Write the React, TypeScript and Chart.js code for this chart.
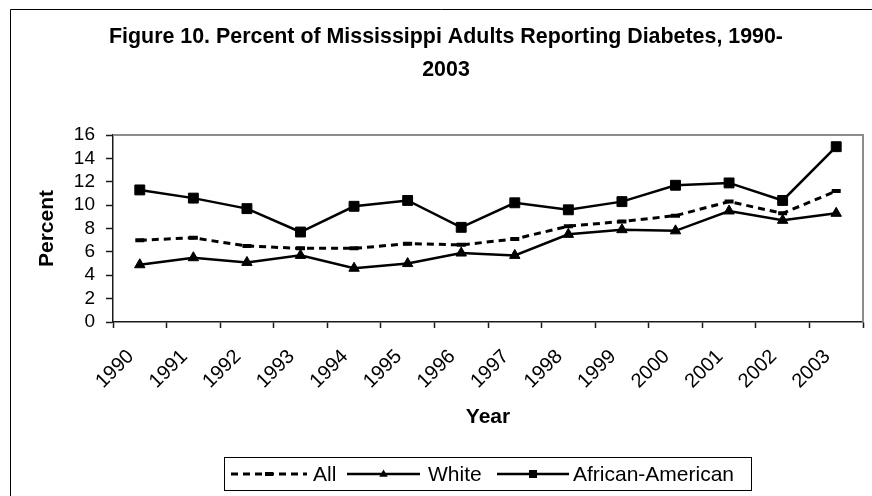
import React, { useEffect, useRef } from "react";
import { Chart, registerables } from "chart.js";

Chart.register(...registerables);

// ---------- data ----------
const years = ["1990", "1991", "1992", "1993", "1994", "1995", "1996", "1997", "1998", "1999", "2000", "2001", "2002", "2003"];
const allValues = [7.0, 7.2, 6.5, 6.3, 6.3, 6.7, 6.6, 7.1, 8.2, 8.6, 9.1, 10.3, 9.3, 11.2];
const whiteValues = [4.9, 5.5, 5.1, 5.7, 4.6, 5.0, 5.9, 5.7, 7.5, 7.9, 7.8, 9.5, 8.7, 9.3];
const africanAmericanValues = [11.3, 10.6, 9.7, 7.7, 9.9, 10.4, 8.1, 10.2, 9.6, 10.3, 11.7, 11.9, 10.4, 15.0];
const seriesNames = ["All", "White", "African-American"];
const titleLines = ["Figure 10. Percent of Mississippi Adults Reporting Diabetes, 1990-", "2003"];
const yAxisTitle = "Percent";
const xAxisTitle = "Year";
const yMin = 0;
const yMax = 16;
const yStep = 2;

const FONT = "'Liberation Sans', Arial, Helvetica, sans-serif";

const legendSlots = [
  { x0: 231, x1: 307, tx: 313 },
  { x0: 347, x1: 420, tx: 428 },
  { x0: 497, x1: 569, tx: 573 },
];

const framePlugin = {
  id: "excelFrame",
  beforeDraw(chart: any) {
    const ctx = chart.ctx;
    ctx.save();
    ctx.fillStyle = "#ffffff";
    ctx.fillRect(0, 0, chart.width, chart.height);
    ctx.strokeStyle = "#000000";
    ctx.lineWidth = 1;
    ctx.beginPath();
    ctx.moveTo(10.5, chart.height);
    ctx.lineTo(10.5, 9.5);
    ctx.lineTo(chart.width, 9.5);
    ctx.stroke();
    ctx.restore();
  },
  beforeDatasetsDraw(chart: any) {
    const { ctx, chartArea } = chart;
    ctx.save();
    ctx.strokeStyle = "#8c8c8c";
    ctx.lineWidth = 2;
    ctx.beginPath();
    ctx.moveTo(chartArea.left, chartArea.top);
    ctx.lineTo(chartArea.right, chartArea.top);
    ctx.lineTo(chartArea.right, chartArea.bottom);
    ctx.stroke();
    ctx.restore();
  },
  afterDraw(chart: any) {
    const ctx = chart.ctx;
    const boxL = 224.5, boxT = 457.5, boxW = 527, boxH = 33;
    const cy = boxT + boxH / 2;
    ctx.save();
    ctx.strokeStyle = "#000000";
    ctx.lineWidth = 1;
    ctx.strokeRect(boxL, boxT, boxW, boxH);
    chart.data.datasets.forEach((ds: any, i: number) => {
      const slot = legendSlots[i];
      if (!slot) return;
      ctx.save();
      ctx.strokeStyle = "#000";
      ctx.fillStyle = "#000";
      ctx.lineWidth = ds.borderWidth;
      ctx.setLineDash(ds.borderDash || []);
      ctx.beginPath();
      ctx.moveTo(slot.x0, cy);
      ctx.lineTo(slot.x1, cy);
      ctx.stroke();
      ctx.setLineDash([]);
      const mx = (slot.x0 + slot.x1) / 2;
      if (ds.pointStyle === "line") {
        ctx.fillRect(mx - 4, cy - 2, 8, 4);
      } else if (ds.pointStyle === "triangle") {
        const r = 4.5;
        ctx.beginPath();
        ctx.moveTo(mx, cy - r);
        ctx.lineTo(mx + r * 0.95, cy + r * 0.6);
        ctx.lineTo(mx - r * 0.95, cy + r * 0.6);
        ctx.closePath();
        ctx.fill();
      } else if (ds.pointStyle === "rect") {
        ctx.fillRect(mx - 4, cy - 4, 8, 8);
      }
      ctx.font = `21px ${FONT}`;
      ctx.textBaseline = "middle";
      ctx.textAlign = "left";
      ctx.fillText(ds.label, slot.tx, cy + 1);
      ctx.restore();
    });
    ctx.restore();
  },
};

export default function App() {
  const canvasRef = useRef<HTMLCanvasElement>(null);

  useEffect(() => {
    if (!canvasRef.current) return;
    const chart = new Chart(canvasRef.current, {
      type: "line",
      data: {
        labels: years,
        datasets: [
          {
            label: seriesNames[0],
            data: allValues,
            borderColor: "#000",
            backgroundColor: "#000",
            borderWidth: 3,
            borderDash: [7, 5],
            borderCapStyle: "butt",
            pointStyle: "line",
            pointRadius: 4.5,
            pointBorderWidth: 4,
            pointBorderColor: "#000",
            pointBackgroundColor: "#000",
            tension: 0,
            fill: false,
          },
          {
            label: seriesNames[1],
            data: whiteValues,
            borderColor: "#000",
            backgroundColor: "#000",
            borderWidth: 2.5,
            pointStyle: "triangle",
            pointRadius: 6,
            pointBorderWidth: 1,
            pointBorderColor: "#000",
            pointBackgroundColor: "#000",
            tension: 0,
            fill: false,
          },
          {
            label: seriesNames[2],
            data: africanAmericanValues,
            borderColor: "#000",
            backgroundColor: "#000",
            borderWidth: 2.5,
            pointStyle: "rect",
            pointRadius: 7,
            pointBorderWidth: 1,
            pointBorderColor: "#000",
            pointBackgroundColor: "#000",
            tension: 0,
            fill: false,
          },
        ],
      },
      options: {
        responsive: false,
        animation: false,
        events: [],
        layout: { padding: { left: 29, right: 9, top: 0, bottom: 66 } },
        plugins: {
          legend: { display: false },
          tooltip: { enabled: false },
          title: {
            display: true,
            text: titleLines,
            color: "#000",
            font: { family: FONT, size: 21.4, weight: "bold", lineHeight: "33px" },
            padding: { top: 21, bottom: 48 },
          },
        },
        scales: {
          x: {
            type: "category",
            offset: true,
            afterFit: (scale: any) => {
              scale.height = 108;
            },
            grid: {
              offset: true,
              drawOnChartArea: false,
              drawTicks: true,
              tickLength: 6,
              tickWidth: 1.5,
              tickColor: "#1a1a1a",
            },
            border: { display: true, color: "#1a1a1a", width: 1.5 },
            ticks: {
              color: "#000",
              font: { family: FONT, size: 20 },
              maxRotation: 45,
              minRotation: 45,
              autoSkip: false,
              padding: 17,
              labelOffset: -9,
            },
            title: {
              display: true,
              text: xAxisTitle,
              color: "#000",
              font: { family: FONT, size: 21, weight: "bold", lineHeight: 1.2 },
              padding: { top: 0, bottom: 0 },
            },
          },
          y: {
            min: yMin,
            max: yMax,
            afterFit: (scale: any) => {
              scale.width = 84;
            },
            grid: {
              drawOnChartArea: false,
              drawTicks: true,
              tickLength: 7,
              tickWidth: 1.5,
              tickColor: "#1a1a1a",
            },
            border: { display: true, color: "#1a1a1a", width: 1.5 },
            ticks: {
              stepSize: yStep,
              autoSkip: false,
              color: "#000",
              font: { family: FONT, size: 19 },
              padding: 11,
            },
            title: {
              display: true,
              text: yAxisTitle,
              color: "#000",
              font: { family: FONT, size: 21, weight: "bold", lineHeight: 1.2 },
              padding: { top: 6, bottom: 0 },
            },
          },
        },
      } as any,
      plugins: [framePlugin],
    } as any);
    return () => chart.destroy();
  }, []);

  return (
    <div style={{ position: "fixed", left: 0, top: 0, width: 872, height: 496, background: "#fff" }}>
      <canvas ref={canvasRef} width={872} height={496} style={{ display: "block", width: 872, height: 496 }} />
    </div>
  );
}
